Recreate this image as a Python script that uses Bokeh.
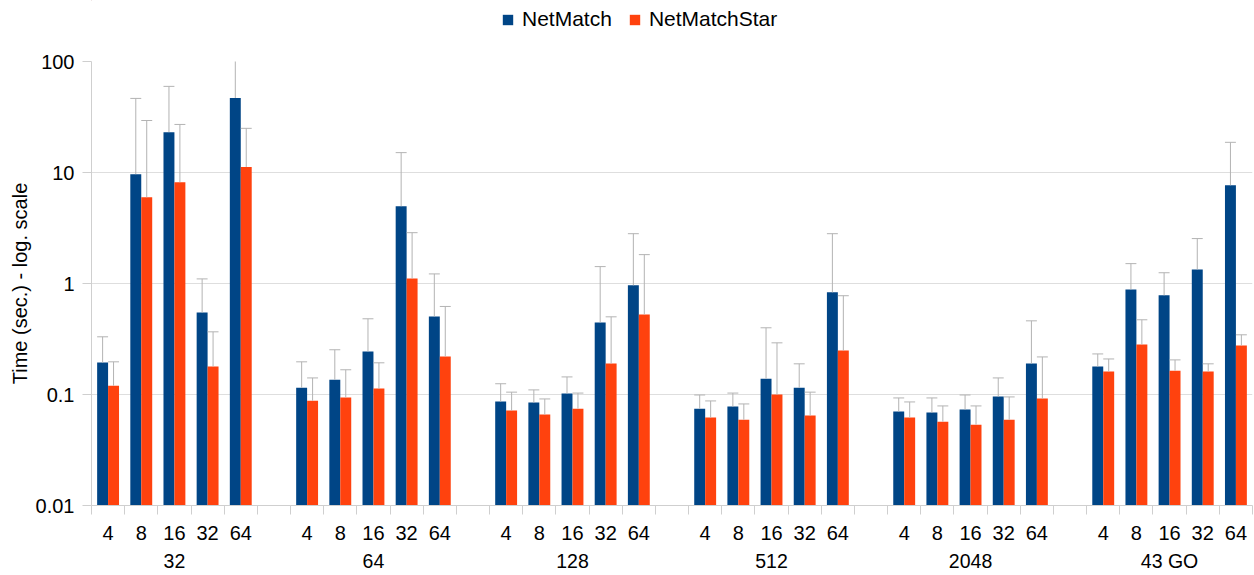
from bokeh.plotting import figure
from bokeh.layouts import column
from bokeh.models import (Range1d, FixedTicker, LinearAxis, ColumnDataSource,
                          Legend, LegendItem, CustomJSTickFormatter)
from bokeh.embed import file_html
from bokeh.resources import INLINE

# ---------------- data ----------------
groups = ["32", "64", "128", "512", "2048", "43 GO"]
subs = ["4", "8", "16", "32", "64"]
series = ["NetMatch", "NetMatchStar"]

netmatch = [
    [0.194, 9.66, 23.1, 0.548, 46.9],
    [0.115, 0.136, 0.244, 4.97, 0.505],
    [0.0863, 0.0845, 0.102, 0.446, 0.962],
    [0.0746, 0.0778, 0.139, 0.115, 0.832],
    [0.0702, 0.0687, 0.0731, 0.0957, 0.190],
    [0.179, 0.885, 0.782, 1.34, 7.67],
]
netmatch_upper = [
    [0.331, 46.5, 59.7, 1.10, 110.0],
    [0.197, 0.253, 0.481, 15.1, 1.22],
    [0.125, 0.110, 0.144, 1.42, 2.81],
    [0.099, 0.103, 0.399, 0.189, 2.81],
    [0.0931, 0.0931, 0.099, 0.141, 0.461],
    [0.232, 1.51, 1.25, 2.54, 18.7],
]
netmatchstar = [
    [0.120, 5.98, 8.17, 0.179, 11.2],
    [0.088, 0.094, 0.113, 1.11, 0.220],
    [0.0716, 0.0659, 0.0746, 0.190, 0.526],
    [0.0619, 0.0593, 0.0998, 0.0646, 0.249],
    [0.0619, 0.0569, 0.0535, 0.0593, 0.0918],
    [0.161, 0.282, 0.164, 0.161, 0.276],
]
netmatchstar_upper = [
    [0.197, 29.4, 27.1, 0.367, 25.0],
    [0.141, 0.167, 0.193, 2.87, 0.621],
    [0.105, 0.0912, 0.103, 0.501, 1.82],
    [0.0875, 0.0822, 0.292, 0.105, 0.776],
    [0.0857, 0.0789, 0.0789, 0.0951, 0.218],
    [0.209, 0.471, 0.205, 0.189, 0.345],
]
y_ticks = [0.01, 0.1, 1, 10, 100]

# ---------------- styling ----------------
BLUE = "#004586"
ORANGE = "#ff420e"
ERR = "#b3b3b3"
GRID = "#dedede"
AXIS = "#cfcfcf"
FONT = "Liberation Sans"
W = 1254
LEG_H = 45
MAIN_H = 575 - LEG_H

n_sub = len(subs)
stride = n_sub + 1
n_slots = len(groups) * stride - 1

centers, labels = [], []
for gi in range(len(groups)):
    for si in range(n_sub):
        centers.append(gi * stride + si + 0.5)
        labels.append(subs[si])
group_centers = [gi * stride + n_sub / 2 for gi in range(len(groups))]

BW = 0.33
OFF = 0.165


def flat(a):
    return [v for row in a for v in row]


p = figure(width=W, height=MAIN_H, output_backend="svg", toolbar_location=None,
           x_range=Range1d(0, n_slots), y_range=Range1d(0.01, 100),
           y_axis_type="log",
           min_border_left=91, min_border_right=2, min_border_top=61 - LEG_H,
           min_border_bottom=70)
p.outline_line_color = None
p.background_fill_color = "white"
p.border_fill_color = "white"

for vals, upper, off, col in [(netmatch, netmatch_upper, -OFF, BLUE),
                              (netmatchstar, netmatchstar_upper, OFF, ORANGE)]:
    xs = [c + off for c in centers]
    src = ColumnDataSource(dict(
        x=xs, top=flat(vals), upper=flat(upper),
        xl=[x - BW / 2 for x in xs], xr=[x + BW / 2 for x in xs]))
    p.vbar(x="x", width=BW, bottom=0.01, top="top", source=src,
           fill_color=col, line_color=None)
    p.segment(x0="x", y0="top", x1="x", y1="upper", source=src,
              line_color=ERR, line_width=1)
    p.segment(x0="xl", y0="upper", x1="xr", y1="upper", source=src,
              line_color=ERR, line_width=1)

# ---------------- axes ----------------
xa = p.xaxis[0]
xa.ticker = FixedTicker(ticks=centers, minor_ticks=list(range(0, n_slots + 1)))
xa.major_label_overrides = {c: l for c, l in zip(centers, labels)}
xa.major_tick_out = 0
xa.major_tick_in = 0
xa.minor_tick_out = 9
xa.minor_tick_in = 0
xa.minor_tick_line_color = AXIS
xa.axis_line_color = AXIS
xa.major_label_standoff = 11
xa.major_label_text_font = FONT
xa.major_label_text_font_size = "20px"
xa.major_label_text_color = "black"

ga = LinearAxis(ticker=FixedTicker(ticks=group_centers, minor_ticks=[]),
                major_label_overrides={c: g for c, g in zip(group_centers, groups)},
                axis_line_color=None, major_tick_line_color=None,
                minor_tick_line_color=None, major_tick_out=0, major_tick_in=0,
                major_label_standoff=7, major_label_text_font=FONT,
                major_label_text_font_size="19.5px", major_label_text_color="black")
p.add_layout(ga, "below")

ya = p.yaxis[0]
ya.ticker = FixedTicker(ticks=y_ticks, minor_ticks=[])
ya.formatter = CustomJSTickFormatter(code="return String(Number(tick.toPrecision(6)));")
ya.major_tick_out = 9
ya.major_tick_in = 0
ya.major_tick_line_color = AXIS
ya.minor_tick_line_color = None
ya.axis_line_color = AXIS
ya.major_label_standoff = 8
ya.major_label_text_font = FONT
ya.major_label_text_font_size = "20px"
ya.major_label_text_color = "black"
ya.axis_label = "Time (sec.) - log. scale"
ya.axis_label_text_font = FONT
ya.axis_label_text_font_size = "20px"
ya.axis_label_text_font_style = "normal"
ya.axis_label_text_color = "black"
ya.axis_label_standoff = 2

p.xgrid.visible = False
p.ygrid.ticker = FixedTicker(ticks=y_ticks, minor_ticks=[])
p.ygrid.grid_line_color = GRID
p.ygrid.grid_line_width = 1

# ---------------- legend (own strip above the chart) ----------------
lf = figure(width=W, height=LEG_H, output_backend="svg", toolbar_location=None,
            x_range=Range1d(0, 1), y_range=Range1d(0, 1), min_border=0,
            x_axis_location=None, y_axis_location=None)
lf.grid.visible = False
lf.outline_line_color = None
lf.background_fill_color = "white"
lf.border_fill_color = "white"
items = []
for name, col in zip(series, [BLUE, ORANGE]):
    # swatch-only renderer placed entirely outside the strip's visible range
    r = lf.vbar(x=[-5], bottom=[5], top=[6], width=0.001,
                fill_color=col, line_color=None)
    items.append(LegendItem(label=name, renderers=[r]))
legend = Legend(items=items, orientation="horizontal", location=(410, 14),
                border_line_color=None, background_fill_alpha=0,
                label_text_font=FONT, label_text_font_size="21px",
                label_text_color="black",
                glyph_width=13, glyph_height=13, spacing=16, label_standoff=8,
                padding=0, margin=0)
lf.add_layout(legend, "center")

layout = column(lf, p, spacing=0)
open("out.html", "w").write(file_html(layout, INLINE))
